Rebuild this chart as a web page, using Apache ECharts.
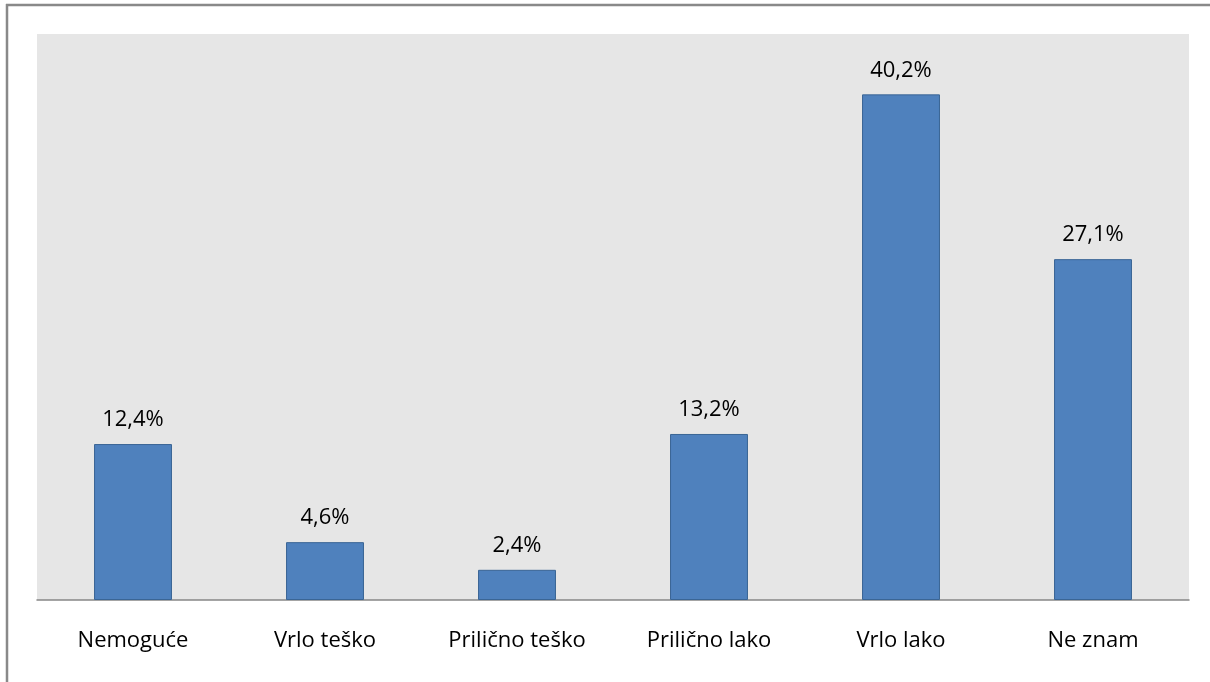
<!DOCTYPE html>
<html>
<head>
<meta charset="utf-8">
<script src="https://cdn.jsdelivr.net/npm/echarts@6/dist/echarts.min.js"></script>
<style>
  html, body { margin: 0; padding: 0; background: #fff; }
  #chart { width: 1210px; height: 682px; }
</style>
</head>
<body>
<div id="chart"></div>
<script>
const categories = ['Nemoguće', 'Vrlo teško', 'Prilično teško', 'Prilično lako', 'Vrlo lako', 'Ne znam'];
const values = [12.4, 4.6, 2.4, 13.2, 40.2, 27.1];

const chart = echarts.init(document.getElementById('chart'), null, { renderer: 'canvas' });
const font = "'Open Sans', 'DejaVu Sans', sans-serif";
chart.setOption({
  animation: false,
  graphic: [
    { type: 'line', shape: { x1: 6, y1: 5, x2: 1210, y2: 5 }, style: { stroke: '#898989', lineWidth: 2.5 } },
    { type: 'line', shape: { x1: 7, y1: 4, x2: 7, y2: 682 }, style: { stroke: '#898989', lineWidth: 2.5 } }
  ],
  grid: {
    left: 37, top: 34, width: 1152, height: 566,
    show: true, backgroundColor: '#e6e6e6', borderWidth: 0
  },
  xAxis: {
    type: 'category',
    data: categories,
    axisLine: { show: true, lineStyle: { color: '#868686', width: 1.5 } },
    axisTick: { show: false },
    axisLabel: { color: '#000', fontFamily: font, fontSize: 22, margin: 30, interval: 0 }
  },
  yAxis: {
    type: 'value', min: 0, max: 45, show: false,
    splitLine: { show: false }
  },
  series: [{
    type: 'bar',
    data: values,
    barWidth: '40.6%',
    itemStyle: { color: '#4f81bd', borderColor: '#3a6595', borderWidth: 1 },
    label: {
      show: true, position: 'top', distance: 13,
      color: '#000', fontFamily: font, fontSize: 22,
      formatter: p => p.value.toFixed(1).replace('.', ',') + '%'
    }
  }]
});
</script>
</body>
</html>
